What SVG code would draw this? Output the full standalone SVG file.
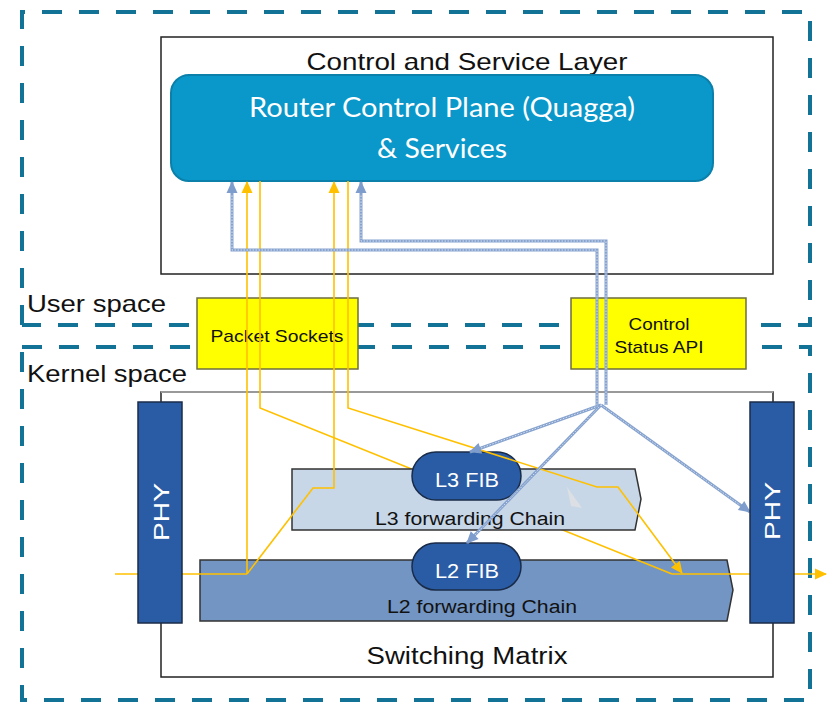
<svg xmlns="http://www.w3.org/2000/svg" width="827" height="704" viewBox="0 0 827 704">
<style>
.dash{fill:none;stroke:#127396;stroke-width:4;stroke-dasharray:20 17}
.lbl{font-family:"Liberation Sans",Arial,sans-serif;fill:#111}
.ylw{fill:#FFFF00;stroke:#6E6E40;stroke-width:1.5}
.phy{fill:#2A5CA5;stroke:#1A2B48;stroke-width:1.5}
.fib{fill:#2A5CA5;stroke:#1A2B48;stroke-width:1.5}
.wt{font-family:"Liberation Sans",Arial,sans-serif;fill:#fff}
.y{fill:none;stroke:#FFC000;stroke-width:1.6}
.b{fill:none;stroke:#86A3CF;stroke-width:3}
.bd{fill:none;stroke:#D6DFEE;stroke-width:1;stroke-dasharray:1.5 1.5}
</style>
<defs>
<marker id="ya" viewBox="0 0 12 12" refX="11" refY="6" markerWidth="13" markerHeight="12" orient="auto" markerUnits="userSpaceOnUse"><path d="M0,0.5 L12,6 L0,11.5 z" fill="#FFC000"/></marker>
<marker id="ba" viewBox="0 0 12 12" refX="11" refY="6" markerWidth="14" markerHeight="12" orient="auto" markerUnits="userSpaceOnUse"><path d="M0,0.5 L12,6 L0,11.5 z" fill="#7E9DCC"/></marker>
</defs>
<rect width="827" height="704" fill="#fff"/>
<g id="user-space">
<path class="dash" d="M22,325 V12 H810 V325 H22"/>
<text class="lbl" x="27" y="312" font-size="24" textLength="139" lengthAdjust="spacingAndGlyphs">User space</text>
</g>
<g id="kernel-space">
<path class="dash" d="M22,347 H810 V700 H22 V347"/>
<text class="lbl" x="27" y="382" font-size="24" textLength="160" lengthAdjust="spacingAndGlyphs">Kernel space</text>
</g>
<g id="control-layer">
<rect x="161" y="37" width="612" height="237" fill="#fff" stroke="#222" stroke-width="1.5"/>
<text class="lbl" x="467" y="70" font-size="24" text-anchor="middle" textLength="321" lengthAdjust="spacingAndGlyphs">Control and Service Layer</text>
</g>
<g id="router">
<rect x="171" y="75" width="542" height="106" rx="18" fill="#0A97C9" stroke="#0B80AA" stroke-width="2"/>
<text x="442" y="117" font-family="Lato,'Open Sans',sans-serif" font-size="27" fill="#fff" text-anchor="middle" textLength="386" lengthAdjust="spacingAndGlyphs">Router Control Plane (Quagga)</text>
<text x="442" y="158" font-family="Lato,'Open Sans',sans-serif" font-size="27" fill="#fff" text-anchor="middle" textLength="130" lengthAdjust="spacingAndGlyphs">&amp; Services</text>
</g>
<g id="packet-sockets">
<rect class="ylw" x="197" y="298" width="161" height="71"/>
<text class="lbl" x="277" y="342" font-size="17" text-anchor="middle" textLength="133" lengthAdjust="spacingAndGlyphs">Packet Sockets</text>
</g>
<g id="control-status-api">
<rect class="ylw" x="571" y="298" width="175" height="71"/>
<text class="lbl" x="659" y="330" font-size="17" text-anchor="middle" textLength="61" lengthAdjust="spacingAndGlyphs">Control</text>
<text class="lbl" x="659" y="353" font-size="17" text-anchor="middle" textLength="89" lengthAdjust="spacingAndGlyphs">Status API</text>
</g>
<g id="switching-matrix">
<rect x="161" y="392" width="612" height="285" fill="#fff" stroke="#222" stroke-width="1.5"/>
<line x1="161" y1="392" x2="773" y2="392" stroke="#999" stroke-width="2"/>
<text class="lbl" x="467" y="664" font-size="23" text-anchor="middle" textLength="201" lengthAdjust="spacingAndGlyphs">Switching Matrix</text>
</g>
<g id="l2-chain">
<path d="M200,560 H727 L733,590 L727,621 H200 Z" fill="#7395C3" stroke="#333" stroke-width="1.5"/>
<text class="lbl" x="482" y="613" font-size="18" text-anchor="middle" textLength="190" lengthAdjust="spacingAndGlyphs">L2 forwarding Chain</text>
</g>
<g id="connectors">
<path class="y" d="M260,181 V408 L672,574"/>
<path class="y" d="M115,574 H247" stroke-width="2.4"/>
<path class="y" d="M672,574 H826" stroke-width="2.4" marker-end="url(#ya)"/>
</g>
<g id="l3-chain">
<path d="M292,469 H635 L641,499 L635,530 H292 Z" fill="#C7D7E8" stroke="#333" stroke-width="1.5"/>
<path d="M567,487 L582,508 L571,506 Z" fill="#DCDFE3"/>
<text class="lbl" x="470" y="525" font-size="18" text-anchor="middle" textLength="190" lengthAdjust="spacingAndGlyphs">L3 forwarding Chain</text>
</g>
<g id="l3-fib">
<rect class="fib" x="412" y="452" width="109" height="48" rx="24"/>
<text class="wt" x="467" y="487" font-size="21" text-anchor="middle" textLength="64" lengthAdjust="spacingAndGlyphs">L3 FIB</text>
</g>
<g id="l2-fib">
<rect class="fib" x="412" y="543" width="109" height="47" rx="23.5"/>
<text class="wt" x="467" y="578" font-size="21" text-anchor="middle" textLength="64" lengthAdjust="spacingAndGlyphs">L2 FIB</text>
</g>
<g id="connectors-top">
<path class="y" d="M247,574 V182" marker-end="url(#ya)"/>
<path class="y" d="M247,574 L313,488 H334 V182" marker-end="url(#ya)"/>
<path class="y" d="M348,181 V408 L597,487 H618 L682,573" marker-end="url(#ya)"/>
<path class="b" d="M597,405 V250 H232 V182" marker-end="url(#ba)"/>
<path class="bd" d="M597,405 V250 H232 V194"/>
<path class="b" d="M606,405 V241 H361 V182" marker-end="url(#ba)"/>
<path class="bd" d="M606,405 V241 H361 V194"/>
<path class="b" d="M601,405 L470,452" marker-end="url(#ba)"/>
<path class="bd" d="M601,405 L481,448"/>
<path class="b" d="M601,405 L467,543" marker-end="url(#ba)"/>
<path class="bd" d="M601,405 L475,535"/>
<path class="b" d="M601,405 L750,512" marker-end="url(#ba)"/>
<path class="bd" d="M601,405 L740,505"/>
</g>
<g id="phy-left">
<rect class="phy" x="138" y="402" width="44" height="221"/>
<text class="wt" transform="translate(161,512) rotate(-90)" x="0" y="8" font-size="22" text-anchor="middle" textLength="58" lengthAdjust="spacingAndGlyphs">PHY</text>
</g>
<g id="phy-right">
<rect class="phy" x="750" y="402" width="44" height="221"/>
<text class="wt" transform="translate(772,511) rotate(-90)" x="0" y="8" font-size="22" text-anchor="middle" textLength="58" lengthAdjust="spacingAndGlyphs">PHY</text>
</g>
</svg>
